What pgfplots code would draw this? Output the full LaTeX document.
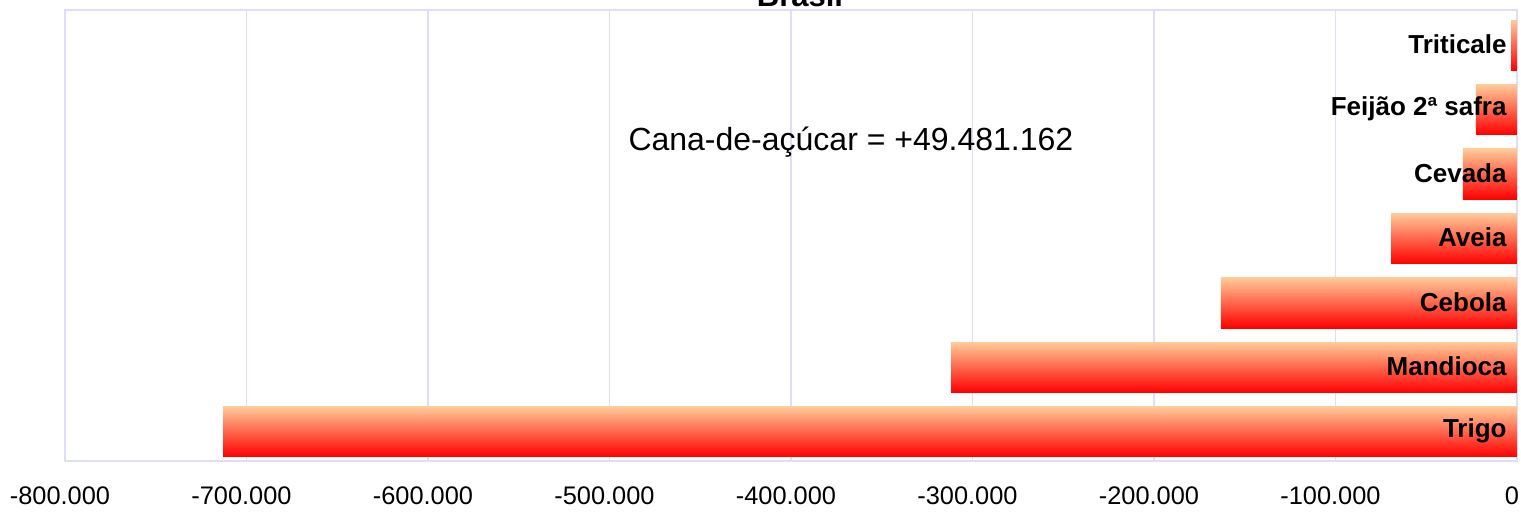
\documentclass[border=0pt]{standalone}
\usepackage{pgfplots}
\pgfplotsset{compat=1.18}
\usepackage{fontspec}
\setmainfont{Liberation Sans}
\definecolor{gridc}{RGB}{222,222,248}
\definecolor{peach}{RGB}{255,202,152}
\definecolor{midr}{RGB}{255,140,110}
\definecolor{barred}{RGB}{255,0,0}
\pgfplotsset{gbar/.style={xbar, bar width=0.78, bar shift=-1.5pt, draw=none, top color=peach, middle color=midr, bottom color=barred}}
\begin{document}
\begin{tikzpicture}
\begin{axis}[
  scale only axis,
  width=726pt, height=225.5pt,
  xmin=-800000, xmax=0,
  ymin=-0.5, ymax=6.5,
  xtick={-800000,-700000,-600000,-500000,-400000,-300000,-200000,-100000,0},
  ytick=\empty,
  xmajorgrids,
  major grid style={gridc, line width=0.6pt},
  axis line style={gridc, line width=0.8pt},
  major tick length=0pt,
  scaled x ticks=false,
  xticklabel style={font=\fontsize{12.7}{14}\selectfont, yshift=-9.5pt, xshift=-2.5pt},
  /pgf/number format/.cd, fixed, 1000 sep={.}, assume math mode=true,
  /pgfplots/.cd,
  clip=false,
]
\addplot[gbar] coordinates {(-712900,0)};
\addplot[gbar] coordinates {(-311800,1)};
\addplot[gbar] coordinates {(-163100,2)};
\addplot[gbar] coordinates {(-69400,3)};
\addplot[gbar] coordinates {(-29750,4)};
\addplot[gbar] coordinates {(-22600,5)};
\addplot[gbar] coordinates {(-3300,6)};
\addplot[draw=none, mark=none, nodes near coords, point meta=explicit symbolic,
  every node near coord/.append style={anchor=east, inner sep=0pt, xshift=-5pt, yshift=-1pt,
    font=\fontsize{13}{15}\selectfont\bfseries, text=black}]
  coordinates {(0,0) [Trigo] (0,1) [Mandioca] (0,2) [Cebola] (0,3) [Aveia] (0,4) [Cevada] (0,5) [Feijão 2ª safra] (0,6) [Triticale]};
\node[font=\fontsize{16}{18}\selectfont] at (axis cs:-367000,4.45) {Cana-de-açúcar = +49.481.162};
\end{axis}
\node[anchor=base, font=\fontsize{15.5}{17}\selectfont\bfseries] at (367.5pt,227.5pt) {Brasil};
\pgfresetboundingbox
\path[use as bounding box] (-32.5pt,-25pt) rectangle (728pt,230.5pt);
\end{tikzpicture}
\end{document}
